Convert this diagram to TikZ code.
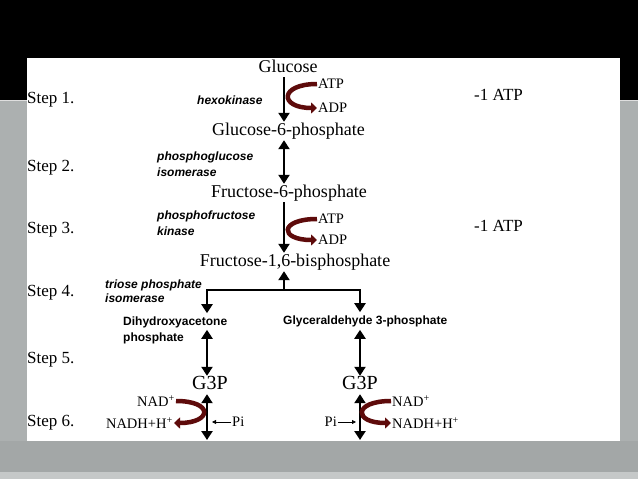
\documentclass[tikz,border=0pt]{standalone}
\usepackage{fontspec}
\setmainfont{Liberation Serif}
\setsansfont{Liberation Sans}
\usetikzlibrary{arrows.meta}
\definecolor{slidegrey}{HTML}{ACB0B0}
\definecolor{curlred}{HTML}{5E0B0B}
\tikzset{
  cmpd/.style={inner sep=1pt, font=\fontsize{18}{20}\selectfont, text height=12pt, text depth=4pt},
  steplbl/.style={anchor=west, inner sep=0pt, font=\fontsize{17}{19}\selectfont},
  enz/.style={anchor=west, inner sep=0pt, align=left, font=\sffamily\bfseries\itshape\fontsize{12}{16}\selectfont},
  inter/.style={anchor=west, inner sep=3pt, align=left, font=\sffamily\bfseries\fontsize{12}{16}\selectfont},
  cof/.style={inner sep=1pt, font=\fontsize{14.5}{16}\selectfont},
  rxn/.style={line width=2.4pt, -{Triangle[length=9pt,width=11pt]}},
  rev/.style={line width=2.4pt, {Triangle[length=9pt,width=11pt]}-{Triangle[length=9pt,width=11pt]}},
  curl/.style={draw=curlred, line width=4.5pt, -{Triangle[length=6pt,width=11pt]}},
  piarrow/.style={line width=0.8pt, -{Triangle[length=4pt,width=4pt]}}
}
\begin{document}
\begin{tikzpicture}[x=1pt,y=-1pt]
\useasboundingbox (0,0) rectangle (638,479);
\fill[black] (0,0) rectangle (638,100);
\fill[slidegrey] (0,100) rectangle (638,479);
\fill[slidegrey!95!black] (0,441) rectangle (638,472);
\fill[slidegrey!70!white] (0,472) rectangle (638,479);
\draw[gray!25, line width=1.2pt] (0,100.5) -- (638,100.5);
\fill[white] (27,58) rectangle (620,441);

\node[steplbl] (s1) at (27,100) {Step 1.};
\node[steplbl] (s2) at (27,168) {Step 2.};
\node[steplbl] (s3) at (27,230) {Step 3.};
\node[steplbl] (s4) at (27,293) {Step 4.};
\node[steplbl] (s5) at (27,360) {Step 5.};
\node[steplbl] (s6) at (27,423) {Step 6.};
\node[steplbl] (costA) at (474,95) {-1 ATP};
\node[steplbl] (costB) at (474,226) {-1 ATP};

\node[cmpd] (glc) at (288,68) {Glucose};
\node[cmpd] (gsixp) at (288.5,131) {Glucose-6-phosphate};
\node[cmpd] (fsixp) at (289,193) {Fructose-6-phosphate};
\node[cmpd] (fbp) at (295,262) {Fructose-1,6-bisphosphate};
\node[inter] (dhap) at (120,330) {Dihydroxyacetone\\phosphate};
\node[inter] (gap) at (280,321) {Glyceraldehyde 3-phosphate};
\node[cmpd, font=\fontsize{20}{22}\selectfont] (gthreeL) at (210,385) {G3P};
\node[cmpd, font=\fontsize{20}{22}\selectfont] (gthreeR) at (360,385) {G3P};

\node[enz] (hexo) at (197,100) {hexokinase};
\node[enz] (pgi) at (157,164) {phosphoglucose\\isomerase};
\node[enz] (pfk) at (157,223) {phosphofructose\\kinase};
\node[enz, font=\sffamily\bfseries\itshape\fontsize{12}{14.5}\selectfont] (tpi) at (105,291) {triose phosphate\\isomerase};

\node[cof, anchor=west] (atpA) at (317,84) {ATP};
\node[cof, anchor=west] (adpA) at (317,108) {ADP};
\node[cof, anchor=west] (atpB) at (317,219) {ATP};
\node[cof, anchor=west] (adpB) at (317,240) {ADP};
\node[cof, anchor=east] (nadL) at (176,401) {NAD\textsuperscript{+}};
\node[cof, anchor=east] (nadhL) at (174,423) {NADH+H\textsuperscript{+}};
\node[cof, anchor=west] (nadR) at (391,401) {NAD\textsuperscript{+}};
\node[cof, anchor=west] (nadhR) at (391,423) {NADH+H\textsuperscript{+}};
\node[cof, anchor=west] (piL) at (231,422) {Pi};
\node[cof, anchor=east] (piR) at (338,422) {Pi};

\coordinate (ax) at (284,0);
\coordinate (lx) at (207,0);
\coordinate (rx) at (360,0);
\coordinate (split) at (284,290);
\coordinate (endL) at (207,440);
\coordinate (endR) at (360,440);
\coordinate (piLend) at (212,422);
\coordinate (piRend) at (356,422);

\draw[rxn] (glc.south -| ax) -- (gsixp.north -| ax);
\draw[rev] (gsixp.south -| ax) -- (fsixp.north -| ax);
\draw[rxn] (fsixp.south -| ax) -- (fbp.north -| ax);
\draw[rxn] (split) -- (fbp.south -| ax);
\draw[rxn] (split) -| (dhap.north -| lx);
\draw[rxn] (split) -| (gap.north -| rx);
\draw[rev] (gap.south -| lx) -- (gthreeL.north -| lx);
\draw[rev] (gap.south -| rx) -- (gthreeR.north -| rx);
\draw[rev] (gthreeL.south -| lx) -- (endL);
\draw[rev] (gthreeR.south -| rx) -- (endR);

\draw[curl] (atpA.west) .. controls +(-38,0) and +(-38,0) .. (adpA.west);
\draw[curl] (atpB.west) .. controls +(-38,0) and +(-38,0) .. (adpB.west);
\draw[curl] (nadL.east) .. controls +(38,0) and +(38,0) .. (nadhL.east);
\draw[curl] (nadR.west) .. controls +(-38,0) and +(-38,0) .. (nadhR.west);
\draw[piarrow] (piL.west) -- (piLend);
\draw[piarrow] (piR.east) -- (piRend);
\end{tikzpicture}
\end{document}
